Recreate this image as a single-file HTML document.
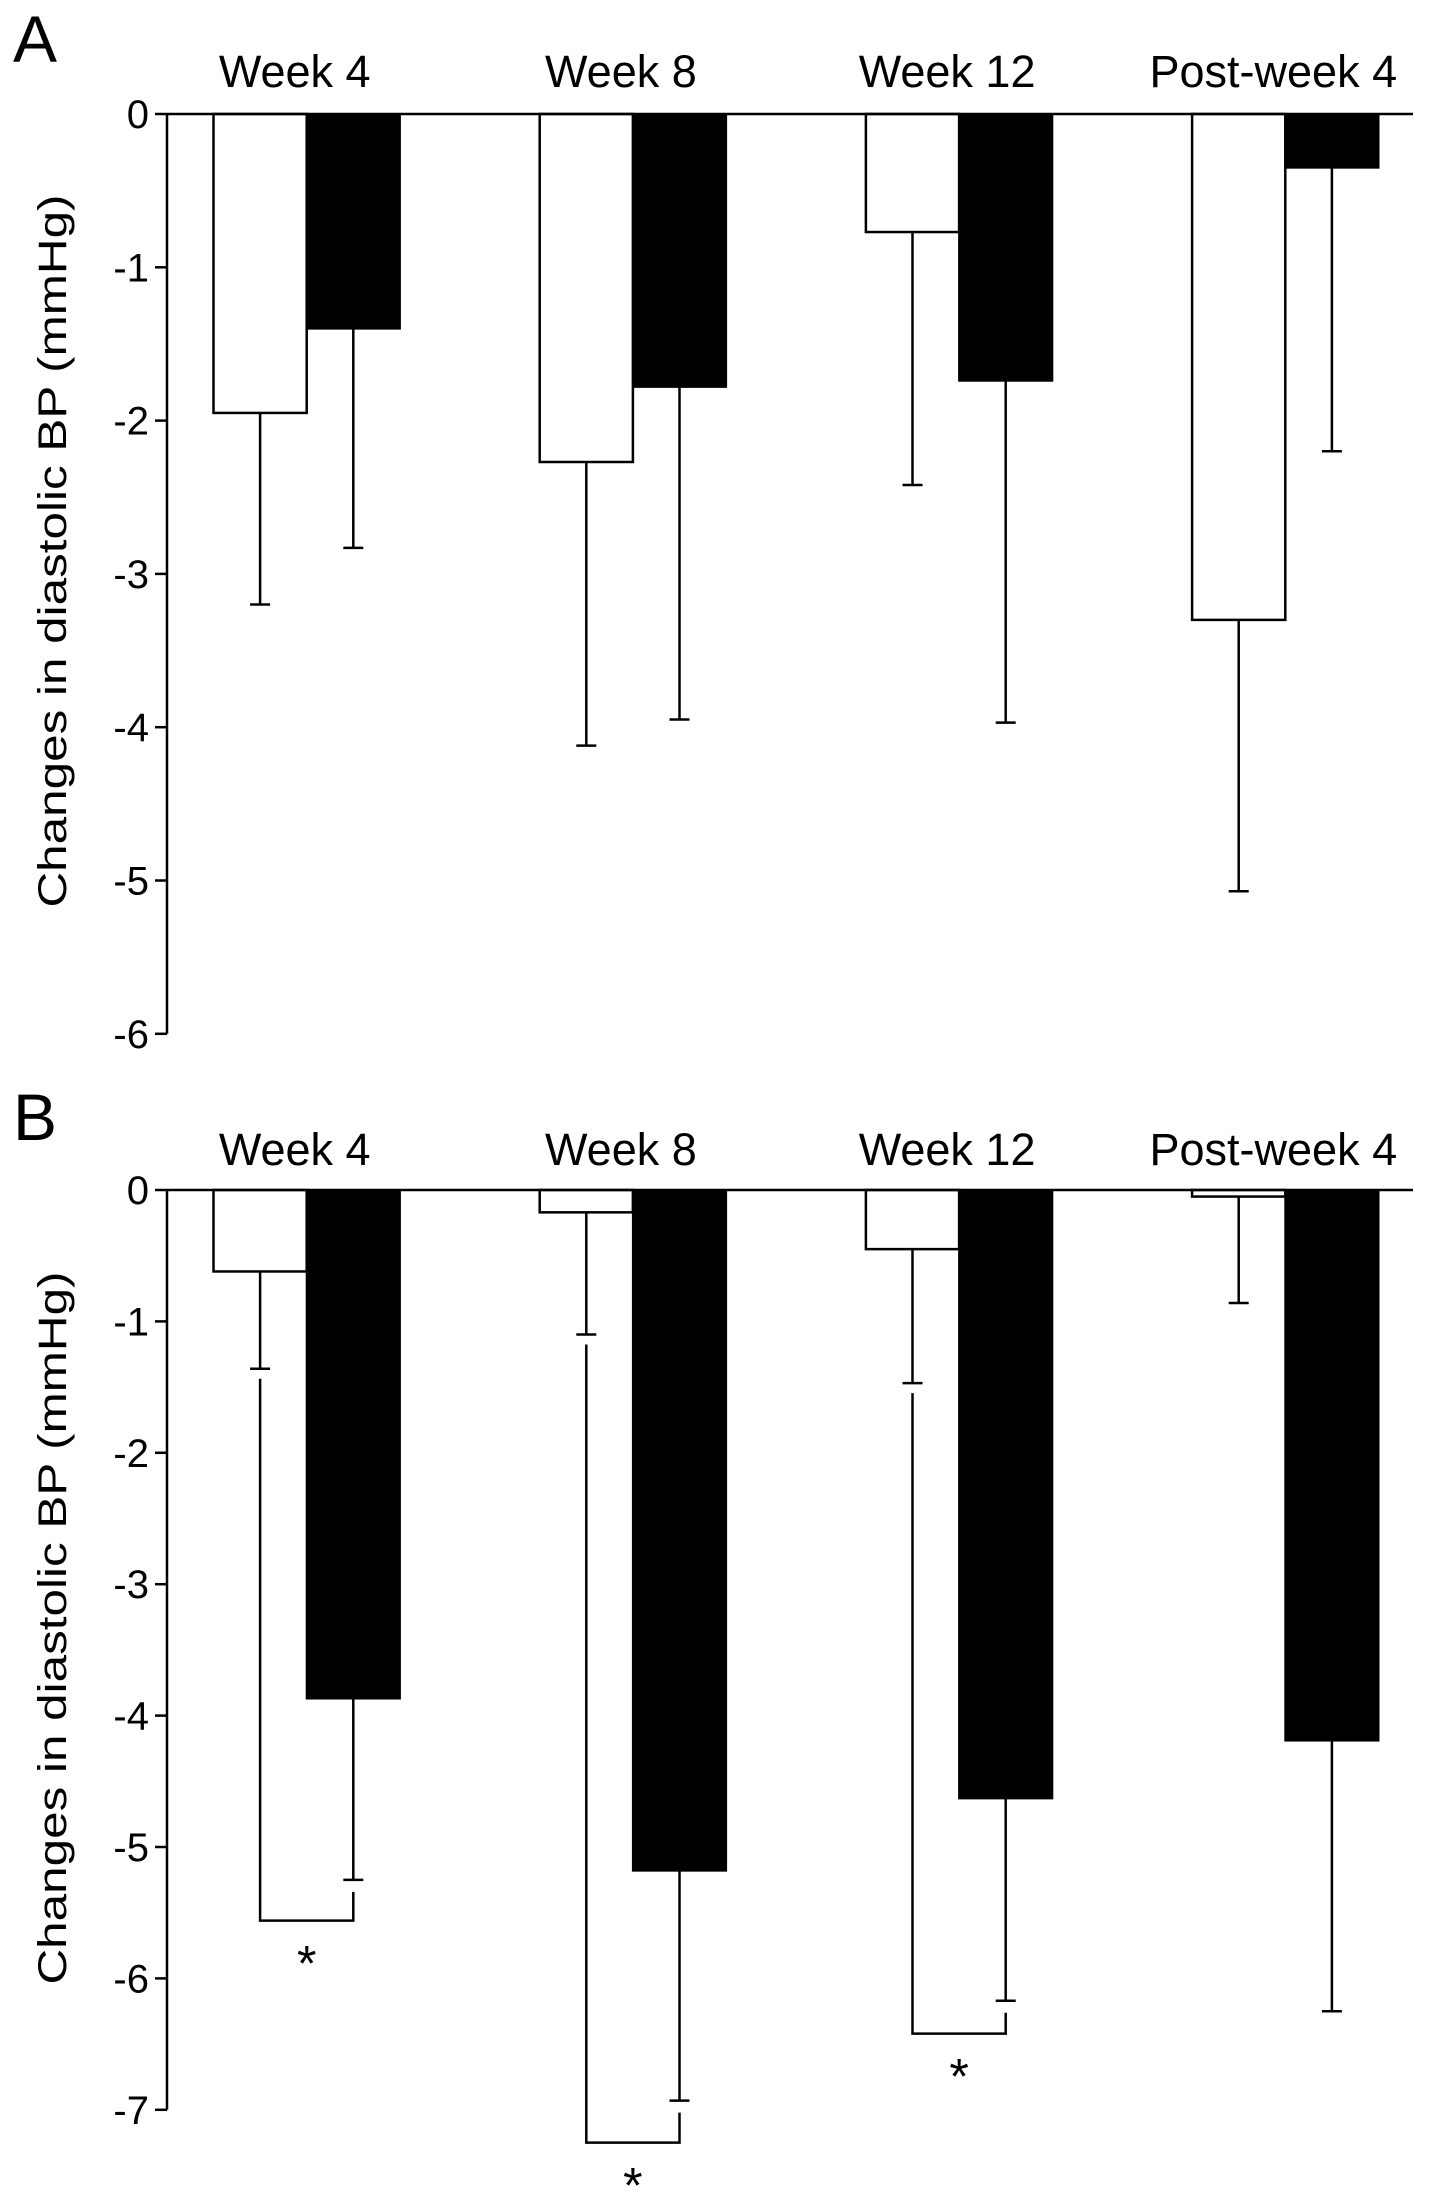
<!DOCTYPE html>
<html><head><meta charset="utf-8"><style>
html,body{margin:0;padding:0;background:#fff;}
svg{display:block;font-family:"Liberation Sans",Arial,sans-serif;}
</style></head><body>
<svg id="chart" width="1441" height="2204" viewBox="0 0 1441 2204" xmlns="http://www.w3.org/2000/svg"></svg>
<script>
const categories = ["Week 4","Week 8","Week 12","Post-week 4"];
const aWhite = [-1.95,-2.27,-0.77,-3.3];
const aWhiteErr = [-3.2,-4.12,-2.42,-5.07];
const aBlack = [-1.4,-1.78,-1.74,-0.35];
const aBlackErr = [-2.83,-3.95,-3.97,-2.2];
const aTicks = [0,-1,-2,-3,-4,-5,-6];
const bWhite = [-0.62,-0.17,-0.45,-0.05];
const bWhiteErr = [-1.36,-1.1,-1.47,-0.86];
const bBlack = [-3.87,-5.18,-4.63,-4.19];
const bBlackErr = [-5.25,-6.93,-6.17,-6.25];
const bBracket = [-5.56,-7.25,-6.42,null];
const bTicks = [0,-1,-2,-3,-4,-5,-6,-7];

const NS="http://www.w3.org/2000/svg";
const svg=document.getElementById('chart');
function mk(tag,attrs,parent){const e=document.createElementNS(NS,tag);for(const k in attrs)e.setAttribute(k,attrs[k]);(parent||svg).appendChild(e);return e;}

function panel(p){
  const g=mk('g',{});
  
  
  const axX=167, x0=213.5, step=326.2, bw=93.2, endX=1413;
  const y=v=>p.zeroY - v*p.unit;
  const ymin=p.ticks[p.ticks.length-1];
  const lt=mk('text',{x:13,y:p.letterY,'font-size':66},g);lt.textContent=p.letter;
  
  
  const ax=mk('line',{x1:axX,y1:y(0),x2:axX,y2:y(ymin),stroke:'#000','stroke-width':2.5},g);
  
  
  p.ticks.forEach(t=>{
    mk('line',{x1:axX-12,y1:y(t),x2:axX,y2:y(t),stroke:'#000','stroke-width':2.5},g);
    const tx=mk('text',{x:149,y:y(t)+14,'font-size':40,'text-anchor':'end'},g);
    tx.textContent=String(t);
    
    
  });
  const yt=mk('text',{x:0,y:0,'font-size':40,'text-anchor':'middle',textLength:713,lengthAdjust:'spacingAndGlyphs',transform:`translate(66,${p.titleY}) rotate(-90)`},g);
  yt.textContent='Changes in diastolic BP (mmHg)';
  
  
  categories.forEach((c,i)=>{
    const gx=x0+i*step;
    const wx=gx, bx=gx+bw;
    const lab=mk('text',{x:gx+bw-12,y:p.labelY,'font-size':45,'text-anchor':'middle'},g);
    lab.textContent=c;
    
    
    const wv=p.white[i];
    const wr=mk('rect',{x:wx,y:y(0),width:bw,height:y(wv)-y(0),fill:'#fff',stroke:'#000','stroke-width':2.5},g);
    
    
    const wc=wx+bw/2;
    mk('line',{x1:wc,y1:y(wv),x2:wc,y2:y(p.whiteErr[i]),stroke:'#000','stroke-width':2.5},g);
    mk('line',{x1:wc-10,y1:y(p.whiteErr[i]),x2:wc+10,y2:y(p.whiteErr[i]),stroke:'#000','stroke-width':2.5},g);
    const bv=p.black[i];
    const br=mk('rect',{x:bx,y:y(0),width:bw,height:y(bv)-y(0),fill:'#000',stroke:'#000','stroke-width':2},g);
    
    
    const bc=bx+bw/2;
    mk('line',{x1:bc,y1:y(bv),x2:bc,y2:y(p.blackErr[i]),stroke:'#000','stroke-width':2.5},g);
    mk('line',{x1:bc-10,y1:y(p.blackErr[i]),x2:bc+10,y2:y(p.blackErr[i]),stroke:'#000','stroke-width':2.5},g);
    if(p.bracket && p.bracket[i]!=null){
      const by=y(p.bracket[i]);
      const pl=mk('polyline',{points:`${wc},${y(p.whiteErr[i])+10} ${wc},${by} ${bc},${by} ${bc},${y(p.blackErr[i])+12}`,fill:'none',stroke:'#000','stroke-width':2.5},g);
      
      
      const st=mk('text',{x:(wc+bc)/2,y:by+60,'font-size':50,'text-anchor':'middle'},g);
      st.textContent='*';
      
      
    }
  });
  const zl=mk('line',{x1:axX,y1:y(0),x2:endX,y2:y(0),stroke:'#000','stroke-width':2.5},g);
  
  
}
panel({name:'panel-a',letter:'A',letterY:62,labelY:87,titleY:551,zeroY:114,unit:153.3,ticks:aTicks,white:aWhite,whiteErr:aWhiteErr,black:aBlack,blackErr:aBlackErr});
panel({name:'panel-b',letter:'B',letterY:1140,labelY:1165,titleY:1628,zeroY:1190,unit:131.4,ticks:bTicks,white:bWhite,whiteErr:bWhiteErr,black:bBlack,blackErr:bBlackErr,bracket:bBracket});
</script>
</body></html>
